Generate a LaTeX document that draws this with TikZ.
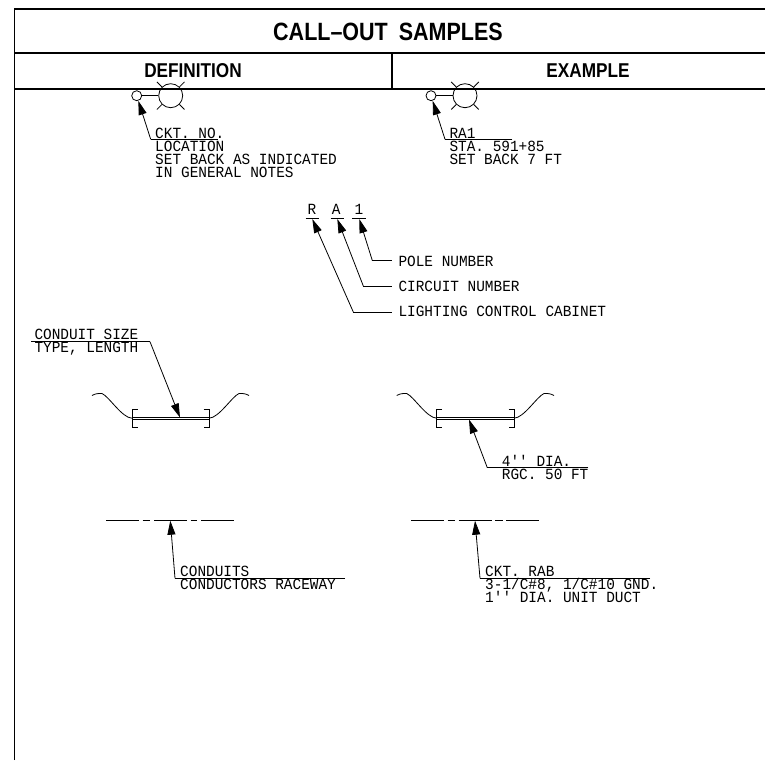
\documentclass[tikz,border=0pt]{standalone}
\usepackage{fontspec}
\usetikzlibrary{arrows.meta}
\newfontfamily\cadfont[FakeStretch=0.93]{Liberation Mono}
\newfontfamily\headfont[FakeStretch=0.86]{Liberation Sans}
\tikzset{
  frameline/.style={line width=1.2pt},
  plain/.style={line width=0.8pt},
  leader/.style={plain,-{Triangle[length=14pt,width=8pt]}},
  callout/.style={anchor=base west,inner sep=0pt,
    font=\cadfont\fontsize{15.5}{13}\selectfont},
  title/.style={font=\headfont\bfseries\fontsize{25}{25}\selectfont},
  subtitle/.style={font=\headfont\bfseries\fontsize{20}{20}\selectfont},
}
% one luminaire symbol: lamp at #1, small circle to the left of it
\newcommand{\lamp}[2]{
  \node[draw,plain,circle,minimum size=24pt,inner sep=0pt] (#2big) at (#1) {};
  \node[draw,plain,circle,minimum size=10pt,inner sep=0pt] (#2small) at ([xshift=-34pt]#1) {};
  \draw[plain] (#2small) -- (#2big);
  \draw[plain] (#2big.45) -- ++(5,-5);
  \draw[plain] (#2big.135) -- ++(-5,-5);
  \draw[plain] (#2big.225) -- ++(-5,5);
  \draw[plain] (#2big.-45) -- ++(5,5);
}
% one conduit between two bends: left end x, right end x
\newcommand{\conduit}[3]{
  \coordinate (#3a) at (#1,417.3);
  \coordinate (#3b) at (#2,417.3);
  \coordinate (#3c) at (#1,419.5);
  \coordinate (#3d) at (#2,419.5);
  \draw[plain] (#3a) -- (#3b);
  \draw[plain] (#3c) -- (#3d);
  \draw[plain] ([xshift=5.5pt,yshift=8pt]#3a) -| ([yshift=-7.5pt]#3c) -- ++(5.5,0);
  \draw[plain] ([xshift=-5.5pt,yshift=8pt]#3b) -| ([yshift=-7.5pt]#3d) -- ++(-5.5,0);
  \draw[plain] (#1-40,395.5) .. controls +(4,-2) and +(-5,0) .. (#1-30,393.5)
    .. controls +(7,3) and +(-10,-0.3) .. (#1,418.2);
  \draw[plain] (#2,418.2) .. controls +(10,-0.3) and +(-7,3) .. (#2+30,393.5)
    .. controls +(5,0) and +(-4,-2) .. (#2+40,395.5);
}
\begin{document}
\begin{tikzpicture}[x=1pt,y=-1pt]
  \useasboundingbox (0,0) rectangle (765,760);

  % table head
  \coordinate (topleft) at (14.5,9);
  \coordinate (topright) at (765,9);
  \coordinate (botleft) at (14.5,760);
  \draw[frameline] (botleft) -- (topleft) -- (topright);
  \draw[frameline] (14.5,53) -- (765,53);
  \draw[frameline] (14.5,89) -- (765,89);
  \draw[frameline] (392,53) -- (392,89);
  \node[title] (head) at (388,31.5) {CALL–OUT\hspace{11pt}SAMPLES};
  \node[subtitle] (defhead) at (193,70.5) {DEFINITION};
  \node[subtitle] (exhead) at (588,70.5) {EXAMPLE};

  % luminaires
  \lamp{170.7,95.7}{deflamp}
  \lamp{465,95.7}{exlamp}
  \coordinate (defelbow) at (150.7,139.3);
  \coordinate (defend) at (217.7,139.3);
  \coordinate (exelbow) at (445,139.3);
  \coordinate (exend) at (512.3,139.3);
  \draw[plain] (defend) -- (defelbow);
  \draw[leader] (defelbow) -- (deflampsmall);
  \draw[plain] (exend) -- (exelbow);
  \draw[leader] (exelbow) -- (exlampsmall);
  \node[callout] (defno) at (155,138) {CKT. NO.};
  \node[callout] (defloc) at (155,151) {LOCATION};
  \node[callout] (defset) at (155,164) {SET BACK AS INDICATED};
  \node[callout] (defnotes) at (155,177.3) {IN GENERAL NOTES};
  \node[callout] (exno) at (449.3,138) {RA1};
  \node[callout] (exsta) at (449.3,151) {STA. 591+85};
  \node[callout] (exset) at (449.3,164) {SET BACK 7 FT};

  % circuit code
  \node[callout] (codeR) at (307.5,214) {R};
  \node[callout] (codeA) at (331.7,214) {A};
  \node[callout] (codeN) at (354.4,214) {1};
  \draw[plain] (305.7,218.3) -- (319,218.3);
  \draw[plain] (330.7,218.3) -- (344,218.3);
  \draw[plain] (352.3,218.3) -- (365.7,218.3);
  \coordinate (tipR) at (312.3,219);
  \coordinate (tipA) at (337.3,219);
  \coordinate (tipN) at (359.3,219);
  \node[callout] (polenum) at (398.3,266) {POLE NUMBER};
  \node[callout] (circnum) at (398.3,291) {CIRCUIT NUMBER};
  \node[callout] (cabinet) at (398.3,316.7) {LIGHTING CONTROL CABINET};
  \coordinate (elbowN) at (372.3,260.5);
  \coordinate (elbowA) at (363.3,286);
  \coordinate (elbowR) at (353.3,312);
  \draw[plain] (polenum.base west |- elbowN) ++(-6.5,0) -- (elbowN);
  \draw[plain] (circnum.base west |- elbowA) ++(-6.5,0) -- (elbowA);
  \draw[plain] (cabinet.base west |- elbowR) ++(-6.5,0) -- (elbowR);
  \draw[leader] (elbowN) -- (tipN);
  \draw[leader] (elbowA) -- (tipA);
  \draw[leader] (elbowR) -- (tipR);

  % conduits
  \conduit{132}{209}{defpipe}
  \conduit{436.7}{514}{expipe}
  \node[callout] (sizetext) at (34.3,339.3) {CONDUIT SIZE};
  \node[callout] (typetext) at (34.3,352.3) {TYPE, LENGTH};
  \coordinate (sizeleft) at (31,341.7);
  \coordinate (sizeelbow) at (150,341.7);
  \coordinate (sizetip) at (180,417.5);
  \draw[plain] (sizeleft) -- (sizeelbow);
  \draw[leader] (sizeelbow) -- (sizetip);
  \coordinate (diaelbow) at (487.3,467.7);
  \coordinate (diaend) at (588.3,467.7);
  \coordinate (diatip) at (469,419.5);
  \draw[plain] (diaend) -- (diaelbow);
  \draw[leader] (diaelbow) -- (diatip);
  \node[callout] (diatext) at (501.7,466) {4'' DIA.};
  \node[callout] (rgctext) at (501.7,479) {RGC. 50 FT};

  % raceways
  \foreach \xa/\xb in {106/139.3,142.7/150,154/187.3,190.7/197.3,201/234.3}
    \draw[plain] (\xa,520.3) -- (\xb,520.3);
  \foreach \xa/\xb in {411/444.3,447.7/455,458.7/492,495.3/502.7,506.3/539.3}
    \draw[plain] (\xa,520.3) -- (\xb,520.3);
  \coordinate (condelbow) at (175,578.3);
  \coordinate (condend) at (345,578.3);
  \coordinate (condtip) at (170.3,520.7);
  \coordinate (cktelbow) at (480,578.3);
  \coordinate (cktend) at (650,578.3);
  \coordinate (ckttip) at (475,520.7);
  \draw[plain] (condend) -- (condelbow);
  \draw[leader] (condelbow) -- (condtip);
  \draw[plain] (cktend) -- (cktelbow);
  \draw[leader] (cktelbow) -- (ckttip);
  \node[callout] (condtext) at (180,576.7) {CONDUITS};
  \node[callout] (racetext) at (180,589.3) {CONDUCTORS RACEWAY};
  \node[callout] (ckttext) at (485,576.7) {CKT. RAB};
  \node[callout] (wiretext) at (485,589.3) {3-1/C\#8, 1/C\#10 GND.};
  \node[callout] (ducttext) at (485,602.7) {1'' DIA. UNIT DUCT};
\end{tikzpicture}
\end{document}
